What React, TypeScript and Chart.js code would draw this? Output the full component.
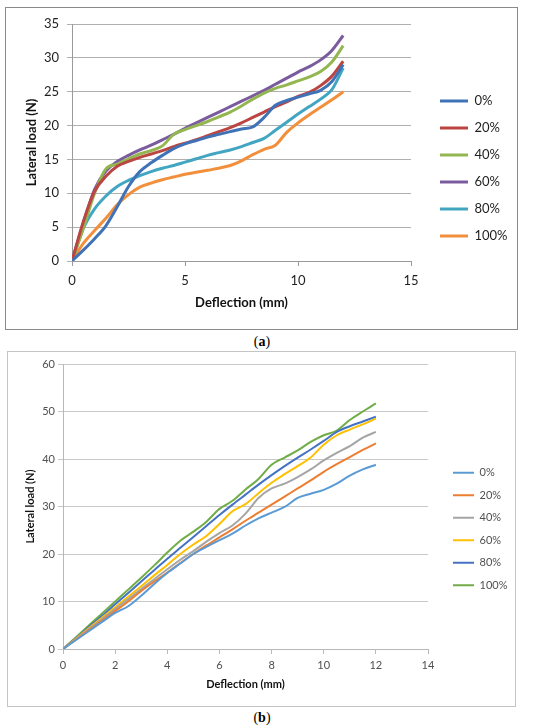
import React, { useEffect, useRef } from "react";
import { Chart, registerables } from "chart.js";

Chart.register(...registerables);

const seriesLabels = ["0%", "20%", "40%", "60%", "80%", "100%"];

// panel (a)
const deflectionA = [0, 0.5, 1, 1.5, 2, 2.5, 3, 3.5, 4, 4.5, 5, 5.5, 6, 6.5, 7, 7.5, 8, 8.5, 9, 9.5, 10, 10.5, 11, 11.5, 12];
const loadA0 = [0, 1.6, 3.3, 5.2, 8.0, 11.0, 13.2, 14.5, 15.6, 16.6, 17.3, 17.8, 18.3, 18.7, 19.1, 19.5, 19.8, 21.2, 23.0, 23.7, 24.2, 24.7, 25.2, 26.5, 29.0];
const loadA20 = [0, 5.8, 10.3, 12.5, 14.0, 14.7, 15.3, 15.8, 16.3, 16.9, 17.4, 17.9, 18.5, 19.1, 19.7, 20.4, 21.2, 22.0, 22.8, 23.5, 24.3, 24.9, 25.9, 27.3, 29.5];
const loadA40 = [0, 4.8, 10.0, 13.6, 14.3, 15.1, 15.8, 16.3, 17.0, 18.7, 19.4, 20.0, 20.6, 21.3, 22.0, 22.9, 23.9, 24.8, 25.5, 26.0, 26.6, 27.2, 28.0, 29.4, 31.8];
const loadA60 = [0, 5.6, 10.6, 13.3, 14.7, 15.6, 16.4, 17.1, 17.9, 18.7, 19.6, 20.4, 21.2, 22.0, 22.8, 23.6, 24.4, 25.2, 26.1, 27.0, 27.9, 28.7, 29.7, 31.1, 33.3];
const loadA80 = [0, 4.8, 7.7, 9.6, 11.0, 11.9, 12.6, 13.2, 13.7, 14.1, 14.6, 15.1, 15.6, 16.0, 16.4, 16.9, 17.5, 18.1, 19.3, 20.5, 21.7, 22.8, 23.9, 25.3, 28.5];
const loadA100 = [0, 2.6, 4.5, 6.3, 8.3, 9.8, 10.9, 11.5, 12.0, 12.4, 12.8, 13.1, 13.4, 13.7, 14.1, 14.8, 15.7, 16.5, 17.1, 19.0, 20.4, 21.6, 22.7, 23.8, 25.0];
const xTicksA = [0, 5, 10, 15];
const yTicksA = [0, 5, 10, 15, 20, 25, 30, 35];

// panel (b)
const deflectionB = [0, 0.5, 1, 1.5, 2, 2.5, 3, 3.5, 4, 4.5, 5, 5.5, 6, 6.5, 7, 7.5, 8, 8.5, 9, 9.5, 10, 10.5, 11, 11.5, 12];
const loadB0 = [0, 1.9, 3.8, 5.7, 7.6, 9.0, 11.2, 13.7, 16.0, 18.0, 20.0, 21.5, 22.9, 24.3, 26.0, 27.5, 28.7, 29.9, 31.8, 32.7, 33.5, 34.8, 36.5, 37.8, 38.8];
const loadB20 = [0, 2.0, 4.0, 6.0, 8.0, 10.0, 12.2, 14.2, 16.1, 18.1, 20.0, 21.8, 23.5, 25.2, 27.0, 28.7, 30.4, 32.1, 33.8, 35.5, 37.3, 38.9, 40.4, 41.9, 43.3];
const loadB40 = [0, 2.1, 4.2, 6.3, 8.4, 10.5, 12.6, 14.7, 16.8, 18.8, 20.6, 22.6, 24.4, 26.0, 28.5, 31.8, 33.8, 34.8, 36.2, 37.8, 39.7, 41.3, 42.7, 44.5, 45.7];
const loadB60 = [0, 2.2, 4.4, 6.6, 8.8, 11.0, 13.2, 15.5, 17.7, 20.0, 22.0, 23.8, 26.3, 29.0, 30.5, 32.8, 35.0, 36.8, 38.5, 40.3, 43.0, 45.0, 46.2, 47.3, 48.5];
const loadB80 = [0, 2.3, 4.7, 7.0, 9.4, 11.8, 14.2, 16.6, 19.0, 21.3, 23.6, 25.9, 28.2, 30.4, 32.5, 34.6, 36.6, 38.5, 40.3, 42.0, 43.8, 45.7, 46.9, 47.9, 48.9];
const loadB100 = [0, 2.5, 5.0, 7.5, 10.0, 12.5, 15.0, 17.6, 20.3, 22.8, 24.7, 26.8, 29.5, 31.2, 33.6, 35.8, 38.8, 40.3, 41.8, 43.6, 45.0, 46.0, 48.2, 50.0, 51.7];
const xTicksB = [0, 2, 4, 6, 8, 10, 12, 14];
const yTicksB = [0, 10, 20, 30, 40, 50, 60];

const colorsA = ["#3f72b6", "#bb4541", "#93b651", "#7a5c9e", "#42a6c2", "#f28f3c"];
const colorsB = ["#5b9bd5", "#ed7d31", "#a5a5a5", "#ffc000", "#4472c4", "#70ad47"];

const FONT = "Lato, 'Open Sans', sans-serif";

type Panel = {
  xs: number[];
  series: number[][];
  colors: string[];
  lineWidth: number;
  xTicks: number[];
  yTicks: number[];
  fontSize: number;
  textColor: string;
  gridColor: string;
  axisColor: string;
  topGap: number;
  yAxisWidth: number;
  xAxisHeight: number;
  rightGap: number;
  yTickPad: number;
  xTickPad: number;
  yTitlePad: number;
  xTitlePad: number;
  legendPad: number;
  sampleWidth: number;
  legendWidth: number;
};

const panelA: Panel = {
  xs: deflectionA,
  series: [loadA0, loadA20, loadA40, loadA60, loadA80, loadA100],
  colors: colorsA,
  lineWidth: 3,
  xTicks: xTicksA,
  yTicks: yTicksA,
  fontSize: 13,
  textColor: "#1e1e1e",
  gridColor: "#b0b0b0",
  axisColor: "#9a9a9a",
  topGap: 16,
  yAxisWidth: 66,
  xAxisHeight: 68,
  rightGap: 15,
  yTickPad: 8,
  xTickPad: 7,
  yTitlePad: 18,
  xTitlePad: 18,
  legendPad: 14,
  sampleWidth: 28,
  legendWidth: 91,
};

const panelB: Panel = {
  xs: deflectionB,
  series: [loadB0, loadB20, loadB40, loadB60, loadB80, loadB100],
  colors: colorsB,
  lineWidth: 2,
  xTicks: xTicksB,
  yTicks: yTicksB,
  fontSize: 11,
  textColor: "#505050",
  gridColor: "#c8c8c8",
  axisColor: "#b8b8b8",
  topGap: 12,
  yAxisWidth: 55,
  xAxisHeight: 57,
  rightGap: 13.5,
  yTickPad: 3,
  xTickPad: 5,
  yTitlePad: 15.4,
  xTitlePad: 15.4,
  legendPad: 11.5,
  sampleWidth: 21,
  legendWidth: 73.5,
};

// legend box keeps a fixed width so the plot area does not depend on text metrics
const fixedLegendWidth = (width: number) => ({
  id: "fixedLegendWidth",
  afterInit(chart: any) {
    const lg = chart.legend;
    if (!lg) return;
    const fit = lg.fit.bind(lg);
    lg.fit = () => {
      fit();
      lg.width = width;
    };
  },
});

function buildConfig(p: Panel): any {
  const font = { family: FONT, size: p.fontSize };
  const bold = { family: FONT, size: p.fontSize, weight: "bold" as const };
  const hidden = {
    type: "linear",
    display: true,
    grid: { display: false },
    border: { display: false },
    ticks: { display: false },
  };
  return {
    type: "line",
    data: {
      datasets: seriesLabels.map((label, i) => ({
        label,
        data: p.xs.map((x, j) => ({ x, y: p.series[i][j] })),
        borderColor: p.colors[i],
        backgroundColor: p.colors[i],
        borderWidth: p.lineWidth,
        pointRadius: 0,
        cubicInterpolationMode: "monotone",
        fill: false,
      })),
    },
    options: {
      animation: false,
      responsive: false,
      events: [],
      layout: { padding: 0 },
      scales: {
        x: {
          type: "linear",
          position: "bottom",
          min: p.xTicks[0],
          max: p.xTicks[p.xTicks.length - 1],
          afterBuildTicks: (s: any) => {
            s.ticks = p.xTicks.map((value) => ({ value }));
          },
          afterFit: (s: any) => {
            s.height = p.xAxisHeight;
          },
          grid: { drawOnChartArea: false, drawTicks: true, tickLength: 5, color: p.axisColor },
          border: { display: true, color: p.axisColor },
          ticks: { padding: p.xTickPad, color: p.textColor, font, maxRotation: 0 },
          title: {
            display: true,
            text: "Deflection (mm)",
            color: "#111",
            font: bold,
            padding: { top: 0, bottom: p.xTitlePad },
          },
        },
        y: {
          type: "linear",
          position: "left",
          min: p.yTicks[0],
          max: p.yTicks[p.yTicks.length - 1],
          afterBuildTicks: (s: any) => {
            s.ticks = p.yTicks.map((value) => ({ value }));
          },
          afterFit: (s: any) => {
            s.width = p.yAxisWidth;
          },
          grid: { color: p.gridColor, drawTicks: true, tickLength: 5 },
          border: { display: true, color: p.axisColor },
          ticks: { padding: p.yTickPad, color: p.textColor, font },
          title: {
            display: true,
            text: "Lateral load (N)",
            color: "#111",
            font: bold,
            padding: { top: p.yTitlePad, bottom: 0 },
          },
        },
        gapTop: {
          ...hidden,
          position: "top",
          afterFit: (s: any) => {
            s.height = p.topGap;
          },
        },
        gapRight: {
          ...hidden,
          position: "right",
          afterFit: (s: any) => {
            s.width = p.rightGap;
          },
        },
      },
      plugins: {
        tooltip: { enabled: false },
        legend: {
          position: "right",
          align: "center",
          labels: {
            usePointStyle: true,
            pointStyle: "line",
            pointStyleWidth: p.sampleWidth,
            padding: p.legendPad,
            color: p.textColor,
            font,
          },
        },
      },
    },
    plugins: [fixedLegendWidth(p.legendWidth)],
  };
}

function ChartCanvas({ panel, width, height }: { panel: Panel; width: number; height: number }) {
  const ref = useRef<HTMLCanvasElement | null>(null);

  useEffect(() => {
    if (!ref.current) return;
    const chart = new Chart(ref.current, buildConfig(panel));
    return () => {
      chart.destroy();
    };
  }, [panel]);

  return <canvas ref={ref} width={width} height={height} style={{ display: "block", width, height }} />;
}

const captionStyle: React.CSSProperties = {
  position: "absolute",
  left: 0,
  width: 524,
  textAlign: "center",
  fontFamily: "'Liberation Serif', serif",
  fontSize: 14,
  lineHeight: "16px",
  color: "#000",
};

export default function App() {
  return (
    <div style={{ position: "absolute", left: 0, top: 0, width: 550, height: 728, background: "#fff" }}>
      <div
        style={{
          position: "absolute",
          left: 5,
          top: 7,
          width: 511,
          height: 321,
          border: "1px solid #8a8a8a",
        }}
      >
        <ChartCanvas panel={panelA} width={511} height={321} />
      </div>
      <div style={{ ...captionStyle, top: 334 }}>
        (<b>a</b>)
      </div>
      <div
        style={{
          position: "absolute",
          left: 7,
          top: 351,
          width: 507,
          height: 354,
          border: "1px solid #c4c4c4",
        }}
      >
        <ChartCanvas panel={panelB} width={507} height={354} />
      </div>
      <div style={{ ...captionStyle, top: 710 }}>
        (<b>b</b>)
      </div>
    </div>
  );
}
